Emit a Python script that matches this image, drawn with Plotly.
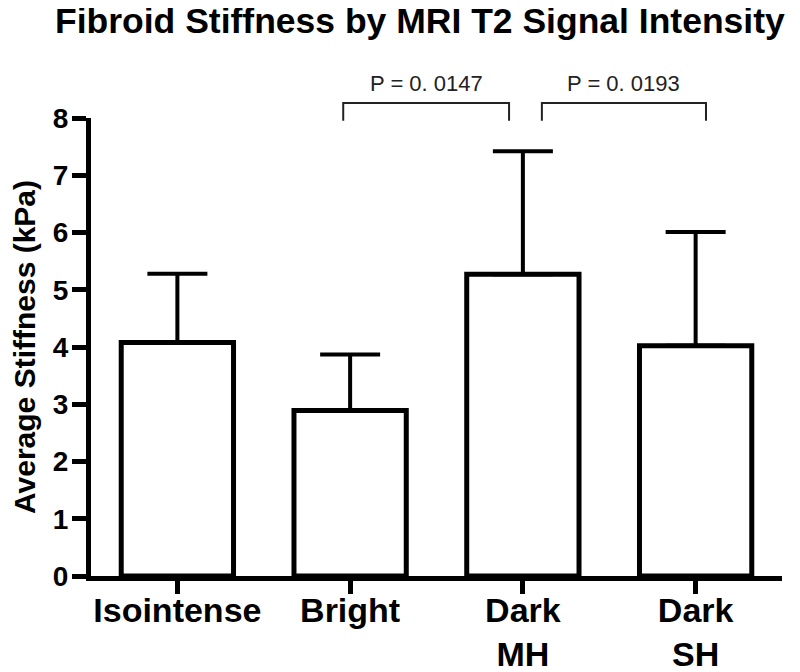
#!/usr/bin/env python3

import plotly.graph_objects as go


# ----------------------------------------
# Data
# ----------------------------------------

categories = ["Isointense", "Bright", "Dark<br>MH", "Dark<br>SH"]
mean_kpa = [4.08, 2.89, 5.27, 4.02]
sd_kpa = [1.20, 0.98, 2.15, 1.99]

# (group a, group b, label)
comparisons = [
    (1, 2, "P = 0. 0147"),
    (2, 3, "P = 0. 0193"),
]

y_ticks = [0, 1, 2, 3, 4, 5, 6, 7, 8]

FONT = "Liberation Sans, Arial, Helvetica, sans-serif"


# ----------------------------------------
# Brackets
# ----------------------------------------

def add_brackets(fig):
    # how far each bracket end sits from the bar centre
    offsets = [(-0.04, -0.08), (0.11, 0.06)]

    for (a, b, label), (da, db) in zip(comparisons, offsets):
        x0 = a + da
        x1 = b + db

        fig.add_shape(
            type="path",
            path=f"M {x0},0.994 L {x0},1.0325 L {x1},1.0325 L {x1},0.994",
            xref="x",
            yref="paper",
            line=dict(color="#222222", width=2),
        )

        fig.add_annotation(
            x=(x0 + x1) / 2,
            y=1.076,
            xref="x",
            yref="paper",
            text=label,
            showarrow=False,
            font=dict(family=FONT, size=22, color="#222222"),
            yanchor="middle",
        )


# ----------------------------------------
# Main
# ----------------------------------------

def main():
    fig = go.Figure()

    fig.add_trace(
        go.Bar(
            x=list(range(len(categories))),
            y=mean_kpa,
            width=0.65,
            marker=dict(color="white", line=dict(color="black", width=5)),
            error_y=dict(
                type="data",
                symmetric=False,
                array=sd_kpa,
                arrayminus=[0] * len(sd_kpa),
                color="black",
                thickness=4,
                width=30,
            ),
        )
    )

    add_brackets(fig)

    # the page puts the figure 8px in from the top-left corner,
    # so the margins are set 8px smaller on those sides
    fig.update_layout(
        title=dict(
            text="<b>Fibroid Stiffness by MRI T2 Signal Intensity</b>",
            x=47 / 800,
            xanchor="left",
            y=0.982,
            yanchor="middle",
            font=dict(family=FONT, size=35.5, color="black"),
        ),
        width=800,
        height=672,
        margin=dict(l=83, r=26, t=110, b=104),
        plot_bgcolor="white",
        paper_bgcolor="white",
        showlegend=False,
        font=dict(family=FONT, color="black"),
        xaxis=dict(
            range=[-0.5, 3.5],
            automargin=False,
            tickmode="array",
            tickvals=list(range(len(categories))),
            ticktext=[f"<b>{c}</b>" for c in categories],
            tickfont=dict(size=34),
            ticklabelstandoff=-13,
            showline=True,
            linecolor="black",
            linewidth=5,
            ticks="outside",
            ticklen=13,
            tickwidth=5,
            tickcolor="black",
            showgrid=False,
            zeroline=False,
        ),
        yaxis=dict(
            range=[0, 8],
            automargin=False,
            tickmode="array",
            tickvals=y_ticks,
            ticktext=[f"<b>{t}</b>" for t in y_ticks],
            tickfont=dict(size=28),
            ticklabelstandoff=-2,
            title=dict(
                text="<b>Average Stiffness (kPa)</b>",
                font=dict(size=30),
                standoff=15,
            ),
            showline=True,
            linecolor="black",
            linewidth=5,
            ticks="outside",
            ticklen=14,
            tickwidth=5,
            tickcolor="black",
            showgrid=False,
            zeroline=False,
        ),
    )

    fig.write_html("out.html")


if __name__ == "__main__":
    main()
